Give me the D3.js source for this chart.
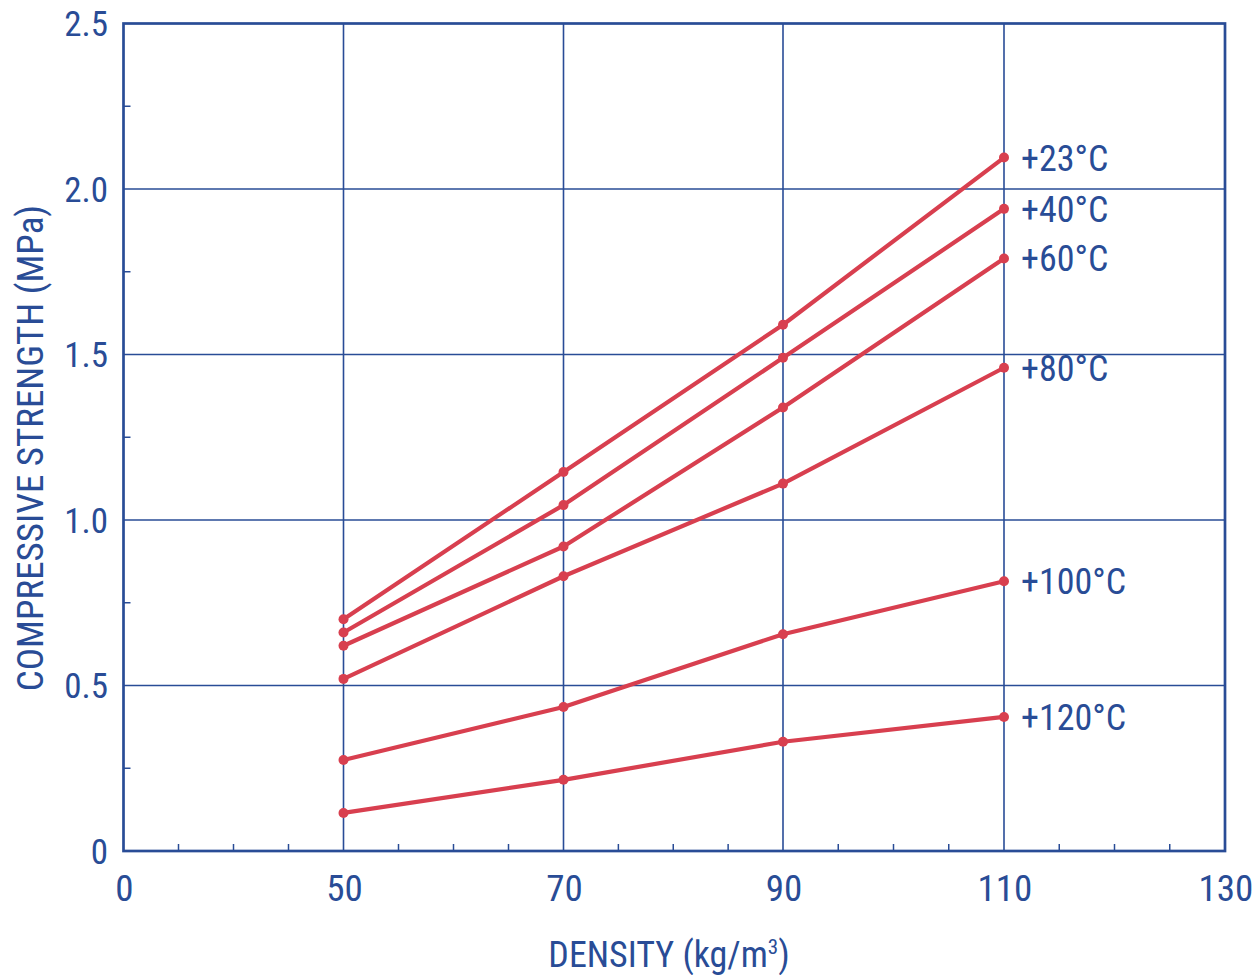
<!DOCTYPE html>
<html><head><meta charset="utf-8">
<script src="https://cdn.jsdelivr.net/npm/d3@7"></script>
<style>
html,body{margin:0;padding:0;background:#fff;}
text{font-family:"Liberation Sans Narrow","Roboto Condensed","DejaVu Sans Condensed",Roboto,sans-serif;fill:#294c96;}
</style></head>
<body><svg id="c" width="1257" height="975"></svg>
<script>
const densities = [50, 70, 90, 110];
const seriesNames = ["+23°C", "+40°C", "+60°C", "+80°C", "+100°C", "+120°C"];
const s23  = [0.70, 1.145, 1.59, 2.095];
const s40  = [0.66, 1.045, 1.49, 1.94];
const s60  = [0.62, 0.92, 1.34, 1.79];
const s80  = [0.52, 0.83, 1.11, 1.46];
const s100 = [0.275, 0.435, 0.655, 0.815];
const s120 = [0.115, 0.215, 0.33, 0.405];
const xTickValues = [0, 50, 70, 90, 110, 130];
const xMinorTicks = [12.5, 25, 37.5, 55, 60, 65, 75, 80, 85, 95, 100, 105, 115, 120, 125];
const yTickValues = [0, 0.5, 1.0, 1.5, 2.0, 2.5];
const yTickLabels = ["0", "0.5", "1.0", "1.5", "2.0", "2.5"];
const yMinorTicks = [0.25, 0.75, 1.25, 1.75, 2.25];
const xTitle = "DENSITY (kg/m";
const yTitle = "COMPRESSIVE STRENGTH (MPa)";

const allSeries = [s23, s40, s60, s80, s100, s120];
const BLUE = "#294c96", RED = "#d83f4f";
const L = 123.5, R = 1225, T = 23.5, B = 851;

const svg = d3.select("#c");
// piecewise axis (0-50 compressed to same width as 20 units)
const x = d3.scaleLinear().domain(xTickValues).range([L, 343.5, 563.5, 783, 1004, R]);
const y = d3.scaleLinear().domain([0, 2.5]).range([B, T]);

// gridlines
const g = svg.append("g");
g.selectAll(".hg").data([0.5, 1.0, 1.5, 2.0]).join("line")
  .attr("x1", L).attr("x2", R).attr("y1", d => y(d)).attr("y2", d => y(d))
  .attr("stroke", BLUE).attr("stroke-width", 1.6);
g.selectAll(".vg").data(densities).join("line")
  .attr("y1", T).attr("y2", B).attr("x1", d => x(d)).attr("x2", d => x(d))
  .attr("stroke", BLUE).attr("stroke-width", 1.6);

// minor ticks
g.selectAll(".xm").data(xMinorTicks).join("line")
  .attr("x1", d => x(d)).attr("x2", d => x(d)).attr("y1", B).attr("y2", B - 7)
  .attr("stroke", BLUE).attr("stroke-width", 1.5);
g.selectAll(".ym").data(yMinorTicks).join("line")
  .attr("y1", d => y(d)).attr("y2", d => y(d)).attr("x1", L).attr("x2", L + 7)
  .attr("stroke", BLUE).attr("stroke-width", 1.5);

// frame
svg.append("rect").attr("x", L).attr("y", T).attr("width", R - L).attr("height", B - T)
  .attr("fill", "none").attr("stroke", BLUE).attr("stroke-width", 2.7);

// tick labels
svg.selectAll(".yl").data(yTickValues).join("text")
  .attr("x", 108).attr("y", d => y(d)).attr("dy", "0.36em")
  .attr("text-anchor", "end").attr("font-size", 35)
  .text((d, i) => yTickLabels[i]);
svg.selectAll(".xl").data(xTickValues).join("text")
  .attr("x", d => x(d) + 1).attr("y", 901)
  .attr("text-anchor", "middle").attr("font-size", 37)
  .text(d => d);

// axis titles
const xt = svg.append("text").attr("x", 669).attr("y", 967)
  .attr("text-anchor", "middle").attr("font-size", 36);
xt.append("tspan").text(xTitle);
xt.append("tspan").attr("dy", -13).attr("font-size", 21).text("3");
xt.append("tspan").attr("dy", 13).text(")");
svg.append("text").attr("transform", "translate(43,448) rotate(-90)")
  .attr("text-anchor", "middle").attr("font-size", 37).text(yTitle);

// series
const line = d3.line().x((d, i) => x(densities[i])).y(d => y(d));
allSeries.forEach((s, k) => {
  const sg = svg.append("g");
  sg.append("path").attr("d", line(s)).attr("fill", "none")
    .attr("stroke", RED).attr("stroke-width", 4.2).attr("stroke-linejoin", "round");
  sg.selectAll("circle").data(s).join("circle")
    .attr("cx", (d, i) => x(densities[i])).attr("cy", d => y(d)).attr("r", 5)
    .attr("fill", RED);
  sg.append("text").attr("x", 1021).attr("y", y(s[s.length - 1])).attr("dy", "0.36em")
    .attr("font-size", 36).text(seriesNames[k]);
});
</script></body></html>
